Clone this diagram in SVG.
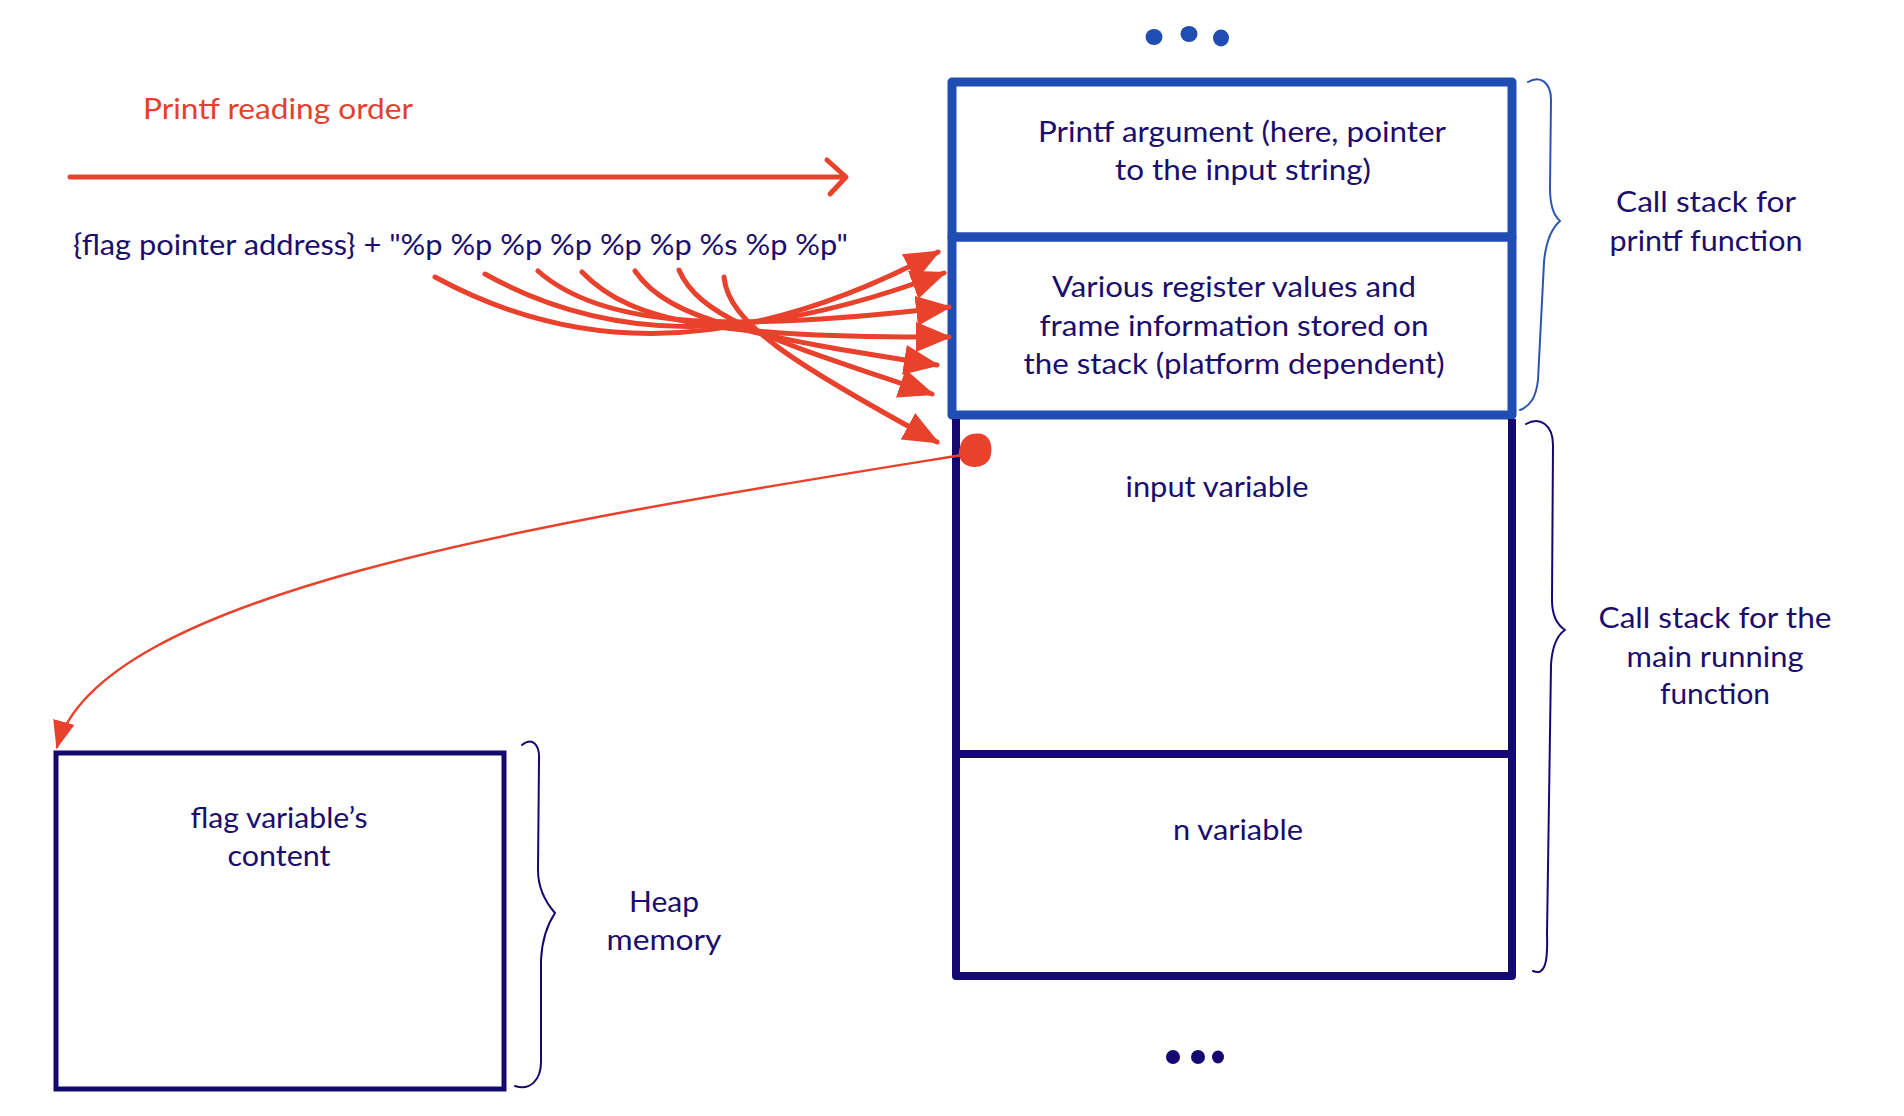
<svg xmlns="http://www.w3.org/2000/svg" width="1904" height="1116" viewBox="0 0 1904 1116">
<style>
.t{font-family:Lato,"Liberation Sans",sans-serif;font-size:29px;fill:#1a0d6b}
.tr{font-family:Lato,"Liberation Sans",sans-serif;font-size:29px;fill:#e3402d}
.red{fill:none;stroke:#e8412c;stroke-linecap:round}
.fan{stroke-width:5;marker-end:url(#fanHead)}
.blue{fill:none;stroke:#1f4db3;stroke-width:9;stroke-linejoin:round}
.navy{fill:none;stroke:#150870;stroke-width:8;stroke-linejoin:round}
.brace{fill:none;stroke-width:2;stroke-linecap:round;stroke-linejoin:round}
</style>
<defs>
<marker id="fanHead" markerUnits="userSpaceOnUse" viewBox="0 0 36 30" markerWidth="36" markerHeight="30" refX="33" refY="15" orient="auto"><path d="M0,0 L36,15 L0,30 z" fill="#e8412c"/></marker>
<marker id="heapHead" markerUnits="userSpaceOnUse" viewBox="0 0 28 22" markerWidth="28" markerHeight="22" refX="26" refY="11" orient="auto"><path d="M0,0 L28,11 L0,22 z" fill="#e8412c"/></marker>
</defs>
<rect width="1904" height="1116" fill="#ffffff"/>

<g id="reading-order">
<text class="tr" x="143" y="119" textLength="270" lengthAdjust="spacingAndGlyphs">Printf reading order</text>
</g>

<g id="format-string">
<text class="t" x="73" y="255" textLength="775" lengthAdjust="spacingAndGlyphs">{flag pointer address} + "%p %p %p %p %p %p %s %p %p"</text>
</g>

<g id="dots-top">
<ellipse cx="1154" cy="37" rx="8.5" ry="8" fill="#1f4db3"/>
<ellipse cx="1189" cy="34" rx="8.5" ry="8" fill="#1f4db3"/>
<ellipse cx="1221" cy="38" rx="8" ry="8.5" fill="#1f4db3"/>
</g>

<g id="printf-argument">
<rect class="blue" x="952" y="82" width="560" height="155"/>
<text class="t" x="1242" y="142" text-anchor="middle" textLength="408" lengthAdjust="spacingAndGlyphs">Printf argument (here, pointer</text>
<text class="t" x="1243" y="180" text-anchor="middle" textLength="256" lengthAdjust="spacingAndGlyphs">to the input string)</text>
</g>

<g id="register-values">
<rect class="blue" x="952" y="237" width="560" height="178"/>
<text class="t" x="1234" y="297" text-anchor="middle" textLength="364" lengthAdjust="spacingAndGlyphs">Various register values and</text>
<text class="t" x="1234" y="336" text-anchor="middle" textLength="389" lengthAdjust="spacingAndGlyphs">frame information stored on</text>
<text class="t" x="1234" y="374" text-anchor="middle" textLength="421" lengthAdjust="spacingAndGlyphs">the stack (platform dependent)</text>
</g>

<g id="input-variable">
<path class="navy" d="M956,419 L956,754 L1512,754 L1512,419"/>
<text class="t" x="1217" y="497" text-anchor="middle" textLength="183" lengthAdjust="spacingAndGlyphs">input variable</text>
</g>

<g id="n-variable">
<rect class="navy" x="956" y="754" width="556" height="222"/>
<text class="t" x="1238" y="840" text-anchor="middle" textLength="130" lengthAdjust="spacingAndGlyphs">n variable</text>
</g>

<g id="dots-bottom">
<ellipse cx="1173" cy="1057" rx="7" ry="7" fill="#150870"/>
<ellipse cx="1198" cy="1057" rx="7" ry="7" fill="#150870"/>
<ellipse cx="1218" cy="1057" rx="6" ry="6.5" fill="#150870"/>
</g>

<g id="heap-box">
<rect x="56" y="753" width="448" height="336" fill="none" stroke="#150870" stroke-width="5"/>
<text class="t" x="279" y="828" text-anchor="middle" textLength="177" lengthAdjust="spacingAndGlyphs">flag variable’s</text>
<text class="t" x="279" y="866" text-anchor="middle" textLength="103" lengthAdjust="spacingAndGlyphs">content</text>
</g>

<g id="brace-printf">
<path class="brace" stroke="#2a55b0" d="M1528,82 C1540,75 1551,82 1551,100 L1550,188 C1550,204 1553,215 1560,221 C1552,228 1546,240 1544,262 L1538,380 C1536,398 1530,406 1520,410"/>
<text class="t" x="1706" y="212" text-anchor="middle" textLength="180" lengthAdjust="spacingAndGlyphs">Call stack for</text>
<text class="t" x="1706" y="251" text-anchor="middle" textLength="193" lengthAdjust="spacingAndGlyphs">printf function</text>
</g>

<g id="brace-main">
<path class="brace" stroke="#150870" d="M1526,424 C1540,416 1553,425 1553,445 L1552,600 C1552,615 1556,624 1565,630 C1556,636 1552,648 1551,665 L1547,935 C1548,962 1545,976 1533,971"/>
<text class="t" x="1715" y="628" text-anchor="middle" textLength="233" lengthAdjust="spacingAndGlyphs">Call stack for the</text>
<text class="t" x="1715" y="667" text-anchor="middle" textLength="177" lengthAdjust="spacingAndGlyphs">main running</text>
<text class="t" x="1715" y="704" text-anchor="middle" textLength="110" lengthAdjust="spacingAndGlyphs">function</text>
</g>

<g id="brace-heap">
<path class="brace" stroke="#150870" d="M522,745 C532,737 540,744 539,760 L538,870 C538,890 548,905 555,913 C547,925 542,940 541,960 L541,1062 C541,1080 530,1091 515,1086"/>
<text class="t" x="664" y="912" text-anchor="middle" textLength="70" lengthAdjust="spacingAndGlyphs">Heap</text>
<text class="t" x="664" y="950" text-anchor="middle" textLength="115" lengthAdjust="spacingAndGlyphs">memory</text>
</g>

<g id="connectors">
<path class="red" stroke-width="5" d="M70,177 L844,177"/>
<path class="red" stroke-width="5" stroke-linejoin="round" d="M827,160 L846,177 L830,194"/>
<path class="red fan" d="M435,277 C560,345 720,368 938,252"/>
<path class="red fan" d="M485,274 C600,338 740,350 944,273"/>
<path class="red fan" d="M538,271 C600,326 720,334 949,307"/>
<path class="red fan" d="M582,272 C632,324 720,337 949,337"/>
<path class="red fan" d="M635,271 C670,322 760,337 937,365"/>
<path class="red fan" d="M679,270 C700,320 780,342 932,394"/>
<path class="red fan" d="M724,277 C728,322 790,362 937,442"/>
<path d="M960,447 C962,436 972,432 982,434 C992,437 993,450 990,458 C986,467 974,469 966,465 C958,460 958,452 960,447 z" fill="#e8412c"/>
<path class="red" stroke-width="2.5" marker-end="url(#heapHead)" d="M962,455 C560,520 100,590 57,747"/>
</g>
</svg>
